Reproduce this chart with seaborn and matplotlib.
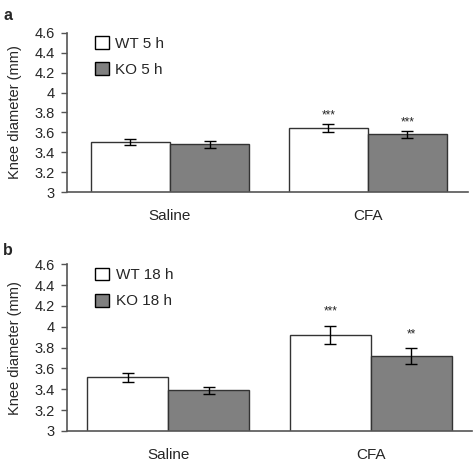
import pandas as pd
import matplotlib
matplotlib.use("Agg")
import matplotlib.pyplot as plt
import seaborn as sns
from matplotlib.ticker import FuncFormatter

groups = ['Saline', 'CFA']

# panel a: 5 h
wt5_mean = [3.50, 3.64]
wt5_err = [0.03, 0.04]
ko5_mean = [3.48, 3.58]
ko5_err = [0.035, 0.033]
stars5_wt = ['', '***']
stars5_ko = ['', '***']

# panel b: 18 h
wt18_mean = [3.515, 3.92]
wt18_err = [0.04, 0.088]
ko18_mean = [3.39, 3.72]
ko18_err = [0.035, 0.073]
stars18_wt = ['', '***']
stars18_ko = ['', '**']

yticks = [3, 3.2, 3.4, 3.6, 3.8, 4, 4.2, 4.4, 4.6]

sns.set_style('white')
plt.rcParams['font.family'] = ['Liberation Sans', 'DejaVu Sans']

fig = plt.figure(figsize=(4.74, 4.62), dpi=100)
ax_a = fig.add_axes([0.1414, 0.5844, 0.8456, 0.3442])
ax_b = fig.add_axes([0.1414, 0.0671, 0.8544, 0.3609])

edge = '#333333'
spine_col = '#555555'


def draw_panel(ax, wt_mean, wt_err, ko_mean, ko_err, st_wt, st_ko, hours, star_gap, xlim):
    wt_lab = f'WT {hours} h'
    ko_lab = f'KO {hours} h'
    df = pd.DataFrame({
        'group': groups * 2,
        'geno': [wt_lab] * 2 + [ko_lab] * 2,
        'mean': wt_mean + ko_mean,
        'err': wt_err + ko_err,
        'star': st_wt + st_ko,
    })
    sns.barplot(data=df, x='group', y='mean', hue='geno', order=groups,
                hue_order=[wt_lab, ko_lab],
                palette={wt_lab: 'white', ko_lab: '#808080'},
                errorbar=None, width=0.8, edgecolor=edge, linewidth=1.0,
                saturation=1, ax=ax)
    # error bars and stars at bar centres
    bars = [p for p in ax.patches if p.get_height() > 0][:4]
    for p, (_, row) in zip(bars, df.iterrows()):
        xc = p.get_x() + p.get_width() / 2
        ax.errorbar(xc, row['mean'], yerr=row['err'], fmt='none',
                    ecolor='black', elinewidth=1.0, capsize=4, capthick=1.0)
        if row['star']:
            ax.text(xc, row['mean'] + row['err'] + star_gap, row['star'],
                    ha='center', va='bottom', fontsize=8.5)
    ax.set_ylim(3, 4.6)
    ax.set_xlim(*xlim)
    ax.set_yticks(yticks)
    ax.yaxis.set_major_formatter(FuncFormatter(lambda v, _: f'{v:g}'))
    ax.tick_params(axis='y', left=True, length=4, width=1, color=spine_col,
                   labelsize=10.5, pad=5)
    ax.tick_params(axis='x', bottom=False, labelsize=11, pad=9)
    ax.set_xlabel('')
    ax.set_ylabel('Knee diameter (mm)', fontsize=10.5, labelpad=9)
    for s in ['top', 'right']:
        ax.spines[s].set_visible(False)
    for s in ['left', 'bottom']:
        ax.spines[s].set_color(spine_col)
        ax.spines[s].set_linewidth(1.2)
    leg = ax.legend(loc='upper left', bbox_to_anchor=(0.07, 0.98), frameon=False,
                    fontsize=11, handlelength=0.92, handleheight=0.92,
                    handletextpad=0.4, labelspacing=0.75, borderaxespad=0,
                    borderpad=0)
    for h in leg.legend_handles:
        h.set_edgecolor('black')
        h.set_linewidth(1.0)


draw_panel(ax_a, wt5_mean, wt5_err, ko5_mean, ko5_err, stars5_wt, stars5_ko,
           5, 0.03, (-0.52, 1.505))
draw_panel(ax_b, wt18_mean, wt18_err, ko18_mean, ko18_err, stars18_wt, stars18_ko,
           18, 0.08, (-0.5, 1.5))

fig.text(0.008, 0.966, 'a', fontsize=11.5, fontweight='bold', va='center')
fig.text(0.006, 0.457, 'b', fontsize=11.5, fontweight='bold', va='center')

fig.savefig('out.png', dpi=100)
